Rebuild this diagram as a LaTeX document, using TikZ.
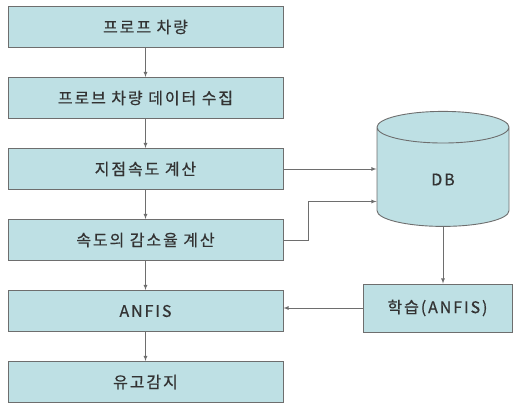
\documentclass[tikz,border=0pt]{standalone}
\usepackage{fontspec}
\setmainfont[LetterSpace=12,FakeBold=0.6]{Noto Sans CJK KR}
\usepackage{xcolor}
\usetikzlibrary{shapes,arrows,positioning,calc}
\definecolor{boxfill}{HTML}{BEE0E4}
\definecolor{boxline}{HTML}{6E6E6E}
\definecolor{txt}{HTML}{333333}

\begin{document}
\begin{tikzpicture}[
    x=1pt, y=-1pt,
    box/.style={draw=boxline, fill=boxfill, line width=0.9pt, text=txt, font=\fontsize{16}{19}\selectfont, minimum width=275pt, minimum height=41pt},
    arrow/.style={->, >=latex, line width=0.8pt, draw=boxline}
]
    \useasboundingbox (0,0) rectangle (513,405);

    % Main flow
    \node[box] (probe) at (145.5,27) {프로프 차량};
    \node[box] (collect) at (145.5,98) {프로브 차량 데이터 수집};
    \node[box] (speed) at (145.5,169) {지점속도 계산};
    \node[box] (decel) at (145.5,240) {속도의 감소율 계산};
    \node[box] (anfis) at (145.5,311) {ANFIS};
    \node[box] (detect) at (145.5,382) {유고감지};

    % Database and training
    \node[cylinder, shape border rotate=90, aspect=1.05, draw=boxline, fill=boxfill, line width=0.9pt, text=txt, font=\fontsize{16}{19}\selectfont, minimum width=132pt, minimum height=115pt] (db) at (443,179.5) {DB};
    \node[box, minimum width=149pt, minimum height=48pt] (train) at (437.5,308) {학습(ANFIS)};

    % Connecting arrows
    \draw[arrow] (probe) -- (collect);
    \draw[arrow] (collect) -- (speed);
    \draw[arrow] (speed) -- (decel);
    \draw[arrow] (decel) -- (anfis);
    \draw[arrow] (anfis) -- (detect);

    \draw[arrow] (speed.east) -- (speed.east -| db.west);
    \draw[arrow] (decel.east) -- ++(25,0) |- ($(db.west)+(0,22)$);
    \draw[arrow] (db.south) -- (db.south |- train.north);
    \draw[arrow] (train.west) -- (train.west -| anfis.east);
\end{tikzpicture}
\end{document}
